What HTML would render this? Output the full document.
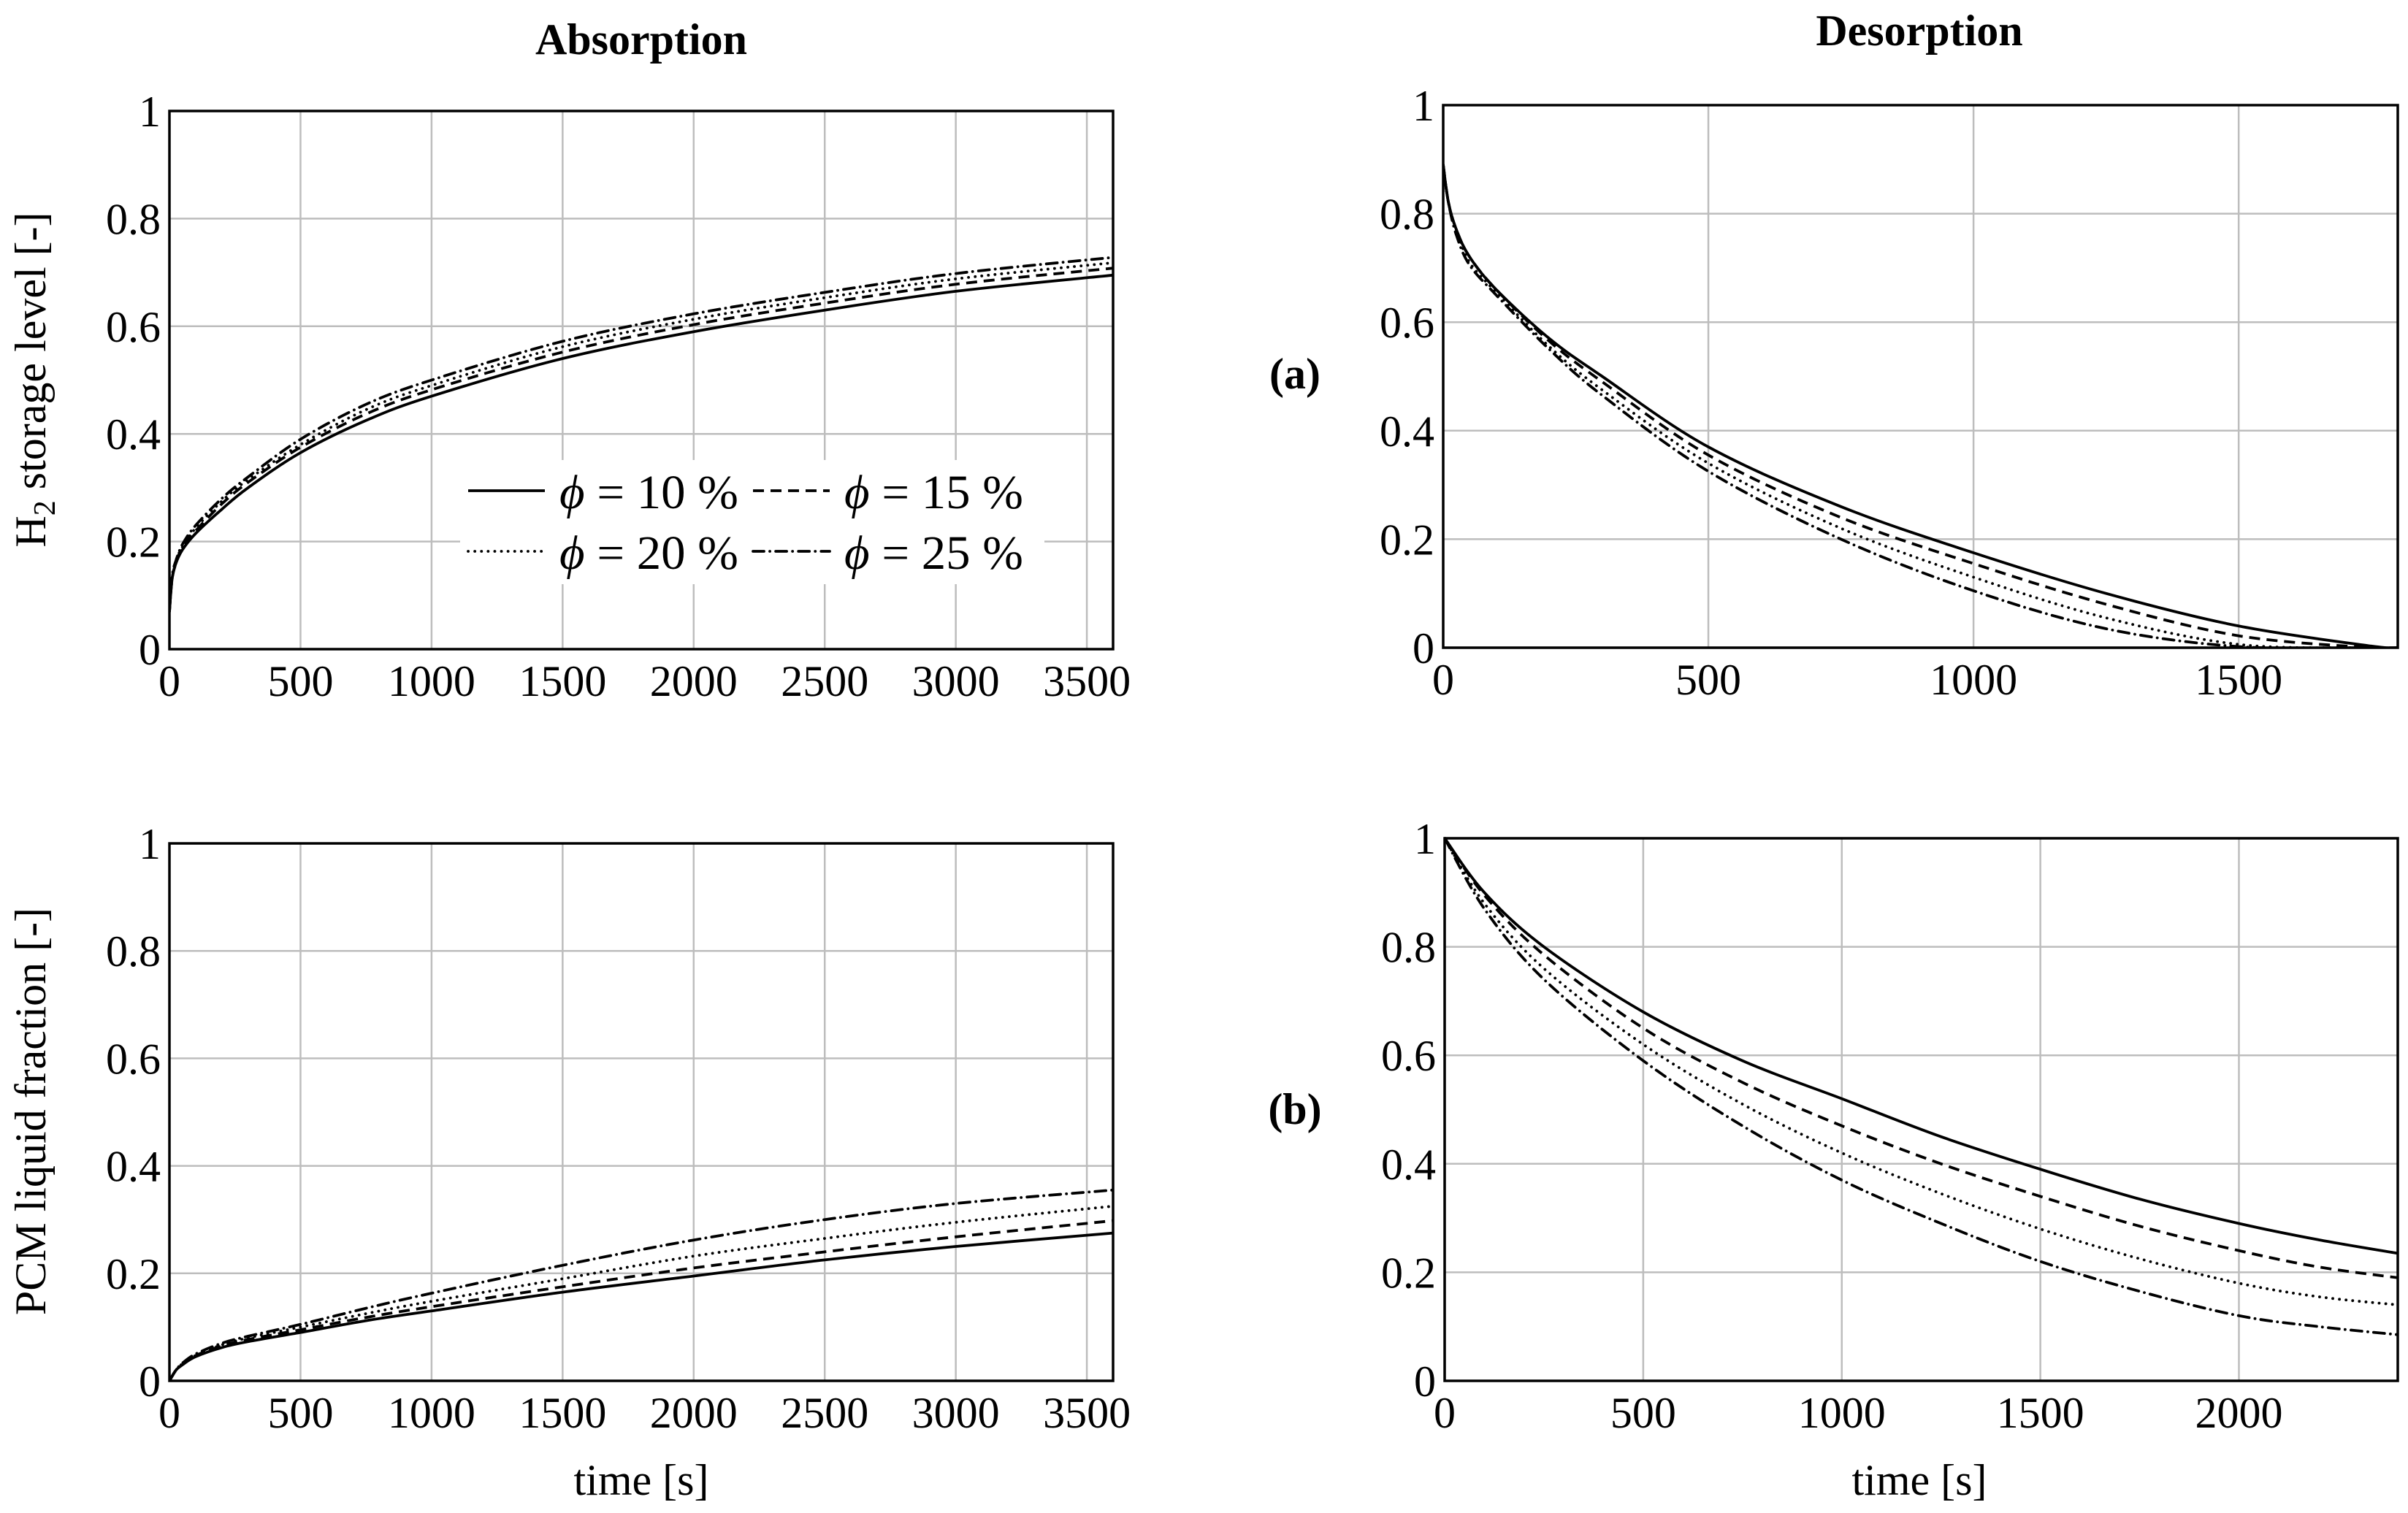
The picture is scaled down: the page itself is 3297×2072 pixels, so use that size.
<!DOCTYPE html>
<html><head><meta charset="utf-8"><style>
html,body{margin:0;padding:0;background:#fff}
svg text{font-family:"Liberation Serif",serif;fill:#000}
</style></head><body>
<svg id="fig" width="3297" height="2067" viewBox="0 0 3297 2067" xmlns="http://www.w3.org/2000/svg">
<rect width="3297" height="2067" fill="#fff"/>
<text x="878" y="74" text-anchor="middle" font-size="60" font-weight="bold">Absorption</text>
<text x="2628" y="62" text-anchor="middle" font-size="60" font-weight="bold">Desorption</text>
<text x="1773" y="532" text-anchor="middle" font-size="60" font-weight="bold">(a)</text>
<text x="1773" y="1539" text-anchor="middle" font-size="60" font-weight="bold">(b)</text>
<text transform="translate(62,520) rotate(-90)" text-anchor="middle" font-size="60">H<tspan font-size="42" dy="13">2</tspan><tspan dy="-13"> storage level [-]</tspan></text>
<text transform="translate(62,1522) rotate(-90)" text-anchor="middle" font-size="60">PCM liquid fraction [-]</text>
<text x="878" y="2047" text-anchor="middle" font-size="60">time [s]</text>
<text x="2628" y="2047" text-anchor="middle" font-size="60">time [s]</text>
<g id="plots"></g>
</svg>
<script>
// Panel A: absorption H2 storage level
const tA = [0,10,25,50,100,200,300,500,750,1000,1500,2000,2500,3000,3600];
const a10 = [0.07,0.13,0.16,0.185,0.215,0.26,0.30,0.365,0.425,0.47,0.54,0.59,0.63,0.665,0.695];
const a15 = [0.07,0.13,0.16,0.19,0.22,0.27,0.31,0.375,0.437,0.482,0.552,0.603,0.643,0.678,0.708];
const a20 = [0.07,0.13,0.165,0.19,0.225,0.275,0.315,0.38,0.445,0.49,0.562,0.613,0.653,0.688,0.718];
const a25 = [0.07,0.135,0.165,0.195,0.23,0.28,0.32,0.39,0.455,0.5,0.572,0.623,0.663,0.698,0.728];
// Panel B: desorption H2 storage level
const tB = [0,10,25,50,100,200,300,500,750,1000,1250,1500,1750,1800];
const b10 = [0.89,0.82,0.77,0.72,0.66,0.57,0.50,0.37,0.26,0.175,0.10,0.04,0.003,0];
const b15 = [0.89,0.82,0.77,0.72,0.66,0.565,0.49,0.355,0.24,0.155,0.08,0.022,0,0];
const b20 = [0.89,0.82,0.77,0.71,0.655,0.555,0.475,0.34,0.22,0.13,0.055,0.006,0,0];
const b25 = [0.89,0.82,0.76,0.705,0.65,0.55,0.465,0.325,0.2,0.105,0.035,0.002,0,0];
// Panel C: absorption PCM liquid fraction
const tC = [0,25,50,100,200,300,500,750,1000,1500,2000,2500,3000,3600];
const c10 = [0,0.02,0.03,0.045,0.062,0.073,0.09,0.112,0.13,0.165,0.195,0.225,0.25,0.275];
const c15 = [0,0.02,0.03,0.047,0.065,0.077,0.095,0.118,0.138,0.175,0.21,0.24,0.268,0.298];
const c20 = [0,0.02,0.032,0.048,0.067,0.08,0.1,0.125,0.148,0.19,0.232,0.265,0.295,0.325];
const c25 = [0,0.02,0.033,0.05,0.07,0.083,0.105,0.135,0.163,0.215,0.262,0.3,0.33,0.355];
// Panel D: desorption PCM liquid fraction
const tD = [0,100,250,500,750,1000,1250,1500,1750,2000,2200,2400];
const d10 = [1,0.9,0.8,0.68,0.59,0.52,0.45,0.39,0.335,0.29,0.26,0.235];
const d15 = [1,0.895,0.785,0.65,0.55,0.47,0.40,0.34,0.285,0.24,0.21,0.19];
const d20 = [1,0.88,0.76,0.62,0.51,0.42,0.345,0.28,0.225,0.18,0.155,0.14];
const d25 = [1,0.87,0.74,0.59,0.47,0.37,0.29,0.22,0.165,0.12,0.1,0.085];
const yTicks = [0,0.2,0.4,0.6,0.8,1];
const yTickLabels = ["0","0.2","0.4","0.6","0.8","1"];
const xTicksLong = [0,500,1000,1500,2000,2500,3000,3500];
const xTicksB = [0,500,1000,1500];
const xTicksD = [0,500,1000,1500,2000];
const seriesNames = ["phi-10","phi-15","phi-20","phi-25"];

const NS = "http://www.w3.org/2000/svg";
const root = document.getElementById("plots");
const styles = [
  {dash:null, cap:"butt"},
  {dash:"15 9", cap:"butt"},
  {dash:"0.1 9", cap:"round"},
  {dash:"15 8 0.1 8", cap:"round"}
];
function mk(tag, attrs, parent){
  const e = document.createElementNS(NS, tag);
  for (const k in attrs) e.setAttribute(k, attrs[k]);
  (parent||root).appendChild(e);
  return e;
}
function smoothPath(pts){
  let d = "M"+pts[0][0].toFixed(1)+","+pts[0][1].toFixed(1);
  for (let i=0;i<pts.length-1;i++){
    const p0 = pts[i-1]||pts[i], p1=pts[i], p2=pts[i+1], p3=pts[i+2]||pts[i+1];
    const c1x = p1[0]+(p2[0]-p0[0])/6, c1y = p1[1]+(p2[1]-p0[1])/6;
    const c2x = p2[0]-(p3[0]-p1[0])/6, c2y = p2[1]-(p3[1]-p1[1])/6;
    d += " C"+c1x.toFixed(1)+","+c1y.toFixed(1)+" "+c2x.toFixed(1)+","+c2y.toFixed(1)+" "+p2[0].toFixed(1)+","+p2[1].toFixed(1);
  }
  return d;
}
function panel(name, L, R, T, B, xmax, xticks, ts, series){
  const g = mk("g", {});
  
  
  const sx = v => L + (v/xmax)*(R-L);
  const sy = v => B - v*(B-T);
  xticks.forEach(v=>{
    const l = mk("line",{x1:sx(v),x2:sx(v),y1:T,y2:B,stroke:"#bdbdbd","stroke-width":2.5},g);
    
    
    const t = mk("text",{x:sx(v),y:B+64,"text-anchor":"middle","font-size":60},g);
    
    
    t.textContent = String(v);
  });
  yTicks.forEach((v,i)=>{
    const l = mk("line",{x1:L,x2:R,y1:sy(v),y2:sy(v),stroke:"#bdbdbd","stroke-width":2.5},g);
    
    
    const t = mk("text",{x:L-12,y:sy(v)+21,"text-anchor":"end","font-size":60},g);
    
    
    t.textContent = yTickLabels[i];
  });
  return {g, sx, sy, draw(){
    const clipId = name+"-clip";
    const cp = mk("clipPath",{id:clipId},g);
    mk("rect",{x:L,y:T-5,width:R-L,height:B-T+5},cp);
    series.forEach((ys,k)=>{
      const pts = ts.map((t,i)=>[sx(t), sy(ys[i])]);
      const p = mk("path",{d:smoothPath(pts),fill:"none",stroke:"#000","stroke-width":3.8,"clip-path":"url(#"+clipId+")","stroke-linecap":styles[k].cap},g);
      if (styles[k].dash) p.setAttribute("stroke-dasharray", styles[k].dash);
      
      
    });
    const f = mk("rect",{x:L,y:T,width:R-L,height:B-T,fill:"none",stroke:"#000","stroke-width":3.5},g);
    
    
  }};
}
const pA = panel("panel-absorption-h2", 232, 1524, 152, 889, 3600, xTicksLong, tA, [a10,a15,a20,a25]);
const lg = mk("g",{});


mk("rect",{x:630,y:630,width:800,height:170,fill:"#fff"},lg);
pA.draw();
root.appendChild(lg);
const legendLabels = ["10","15","20","25"];
const legPos = [[641,672],[1031,672],[641,755],[1031,755]];
legendLabels.forEach((lab,k)=>{
  const [x,y] = legPos[k];
  const e = mk("g",{},lg);
  
  
  const l = mk("line",{x1:x,x2:x+105,y1:y,y2:y,stroke:"#000","stroke-width":3.8,"stroke-linecap":styles[k].cap},e);
  if (styles[k].dash) l.setAttribute("stroke-dasharray", styles[k].dash);
  const t = mk("text",{x:x+125,y:y+24,"font-size":66,textLength:245,lengthAdjust:"spacingAndGlyphs"},e);
  t.innerHTML = '<tspan font-style="italic">ϕ</tspan> = '+lab+' %';
});
const pB = panel("panel-desorption-h2", 1976, 3283, 144, 887, 1800, xTicksB, tB, [b10,b15,b20,b25]);
pB.draw();
const pC = panel("panel-absorption-pcm", 232, 1524, 1155, 1891, 3600, xTicksLong, tC, [c10,c15,c20,c25]);
pC.draw();
const pD = panel("panel-desorption-pcm", 1978, 3283, 1148, 1891, 2400, xTicksD, tD, [d10,d15,d20,d25]);
pD.draw();
</script>
</body></html>
